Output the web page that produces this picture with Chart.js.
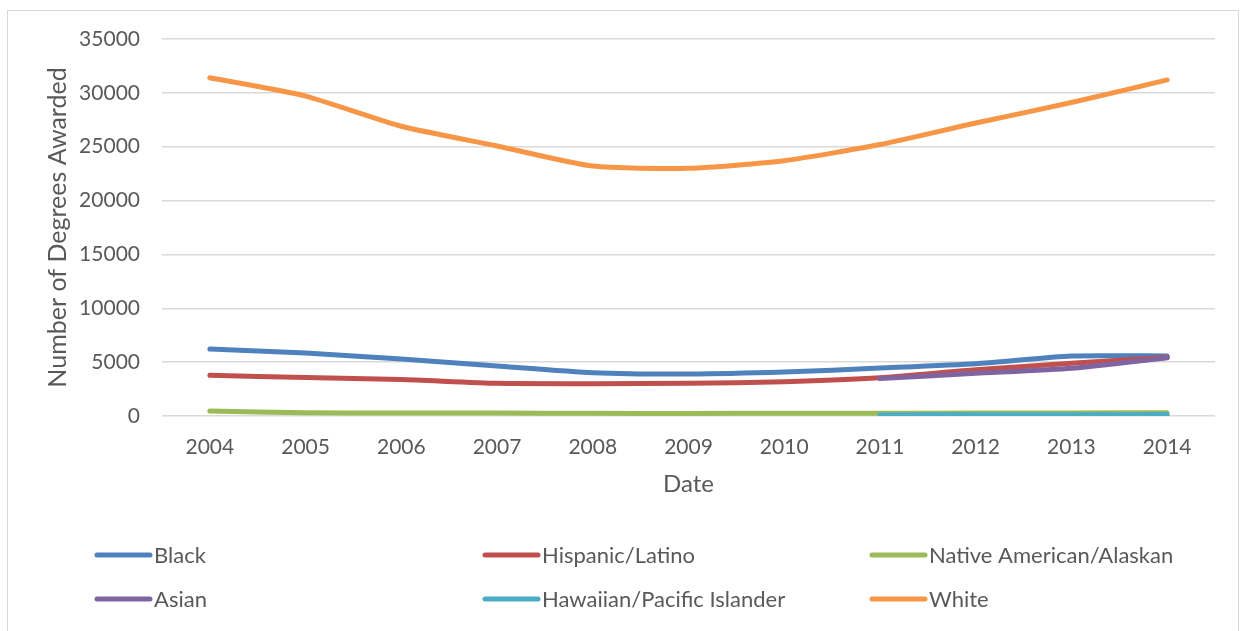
<!DOCTYPE html>
<html>
<head>
<meta charset="utf-8">
<script src="https://cdn.jsdelivr.net/npm/chart.js@4/dist/chart.umd.min.js"></script>
<style>
  html, body { margin: 0; padding: 0; background: #ffffff; }
  #wrap { position: relative; width: 1244px; height: 631px; overflow: hidden; }
  #frame { position: absolute; left: 7px; top: 10px; width: 1232px; height: 660px; border: 1px solid #d9d9d9; box-sizing: border-box; }
  canvas { position: absolute; left: 0; top: 0; }
</style>
</head>
<body>
<div id="wrap">
  <div id="frame"></div>
  <canvas id="chart" width="1244" height="631"></canvas>
</div>
<script>
// Degrees awarded by race/ethnicity, 2004–2014
const years = ['2004','2005','2006','2007','2008','2009','2010','2011','2012','2013','2014'];
const black       = [6220, 5850, 5290, 4640, 4020, 3900, 4080, 4450, 4850, 5570, 5570];
const hispanic    = [3780, 3570, 3390, 3030, 3000, 3030, 3190, 3560, 4300, 4890, 5450];
const nativeAm    = [460, 300, 290, 270, 250, 240, 260, 260, 270, 290, 300];
const asian       = [null, null, null, null, null, null, null, 3470, 3960, 4430, 5400];
const hawaiian    = [null, null, null, null, null, null, null, 100, 110, 120, 130];
const white       = [31400, 29700, 26900, 25070, 23200, 23000, 23700, 25200, 27200, 29100, 31200];
const yTicks      = [0, 5000, 10000, 15000, 20000, 25000, 30000, 35000];

const seriesNames  = ['Black', 'Hispanic/Latino', 'Native American/Alaskan', 'Asian', 'Hawaiian/Pacific Islander', 'White'];
const seriesData   = [black, hispanic, nativeAm, asian, hawaiian, white];
const seriesColors = ['#4F81BD', '#C0504D', '#9BBB59', '#8064A2', '#4BACC6', '#F79646'];

const FONT = 'Lato, "Open Sans", sans-serif';
const TEXT = '#595959';

// Legend laid out as a 3-column grid below the axis
const legendGrid = {
  id: 'legendGrid',
  afterDraw(chart) {
    const ctx = chart.ctx;
    const cols = [95, 483, 870];
    const rows = [555, 599];
    ctx.save();
    ctx.font = '22px ' + FONT;
    ctx.textBaseline = 'middle';
    ctx.textAlign = 'left';
    chart.data.datasets.forEach((ds, i) => {
      const x = cols[i % 3];
      const y = rows[Math.floor(i / 3)];
      ctx.strokeStyle = ds.borderColor;
      ctx.lineWidth = 5;
      ctx.lineCap = 'round';
      ctx.beginPath();
      ctx.moveTo(x + 2, y);
      ctx.lineTo(x + 55, y);
      ctx.stroke();
      ctx.fillStyle = TEXT;
      ctx.fillText(ds.label, x + 59, y + 1);
    });
    ctx.restore();
  }
};

new Chart(document.getElementById('chart'), {
  type: 'line',
  data: {
    labels: years,
    datasets: seriesNames.map((name, i) => ({
      label: name,
      data: seriesData[i],
      borderColor: seriesColors[i],
      backgroundColor: seriesColors[i],
      borderWidth: 5,
      borderCapStyle: 'round',
      borderJoinStyle: 'round',
      pointRadius: 0,
      tension: 0.2,
      order: seriesNames.length - i
    }))
  },
  options: {
    responsive: false,
    animation: false,
    layout: { padding: { left: 43, top: 39, right: 29, bottom: 125 } },
    plugins: { legend: { display: false }, tooltip: { enabled: false } },
    scales: {
      x: {
        offset: true,
        grid: { display: false, drawTicks: false },
        border: { display: false },
        ticks: { color: TEXT, font: { family: FONT, size: 21 }, padding: 19, maxRotation: 0 },
        title: { display: true, text: 'Date', color: TEXT, font: { family: FONT, size: 24 }, padding: { top: 0, bottom: 7 } },
        afterFit(scale) { scale.height = 90; }
      },
      y: {
        min: 0,
        max: 35000,
        afterBuildTicks(scale) { scale.ticks = yTicks.map(v => ({ value: v })); },
        grid: { color: '#d9d9d9', lineWidth: 1.5, drawTicks: false },
        border: { display: false },
        ticks: { color: TEXT, font: { family: FONT, size: 21 }, padding: 22, callback: v => String(v) },
        title: { display: true, text: 'Number of Degrees Awarded', color: TEXT, font: { family: FONT, size: 25 }, padding: { top: 0, bottom: 0 } },
        afterFit(scale) { scale.width = 119; }
      }
    }
  },
  plugins: [legendGrid]
});
</script>
</body>
</html>
